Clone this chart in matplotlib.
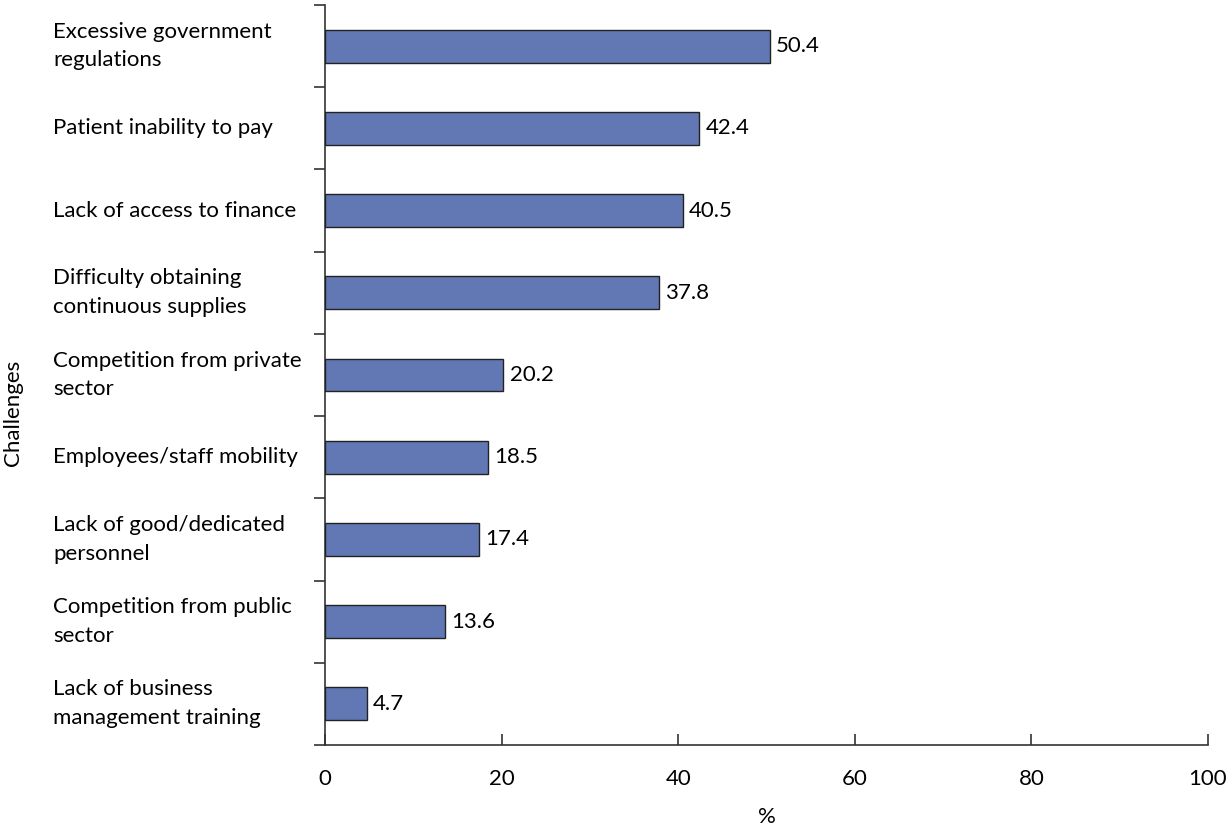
import numpy as np
import matplotlib.pyplot as plt
from matplotlib.transforms import blended_transform_factory

challenges = [
    "Excessive government\nregulations",
    "Patient inability to pay",
    "Lack of access to finance",
    "Difficulty obtaining\ncontinuous supplies",
    "Competition from private\nsector",
    "Employees/staff mobility",
    "Lack of good/dedicated\npersonnel",
    "Competition from public\nsector",
    "Lack of business\nmanagement training",
]
percent = [50.4, 42.4, 40.5, 37.8, 20.2, 18.5, 17.4, 13.6, 4.7]

plt.rcParams['font.family'] = ['Lato', 'DejaVu Sans']
FS = 16

fig = plt.figure(figsize=(12.28, 8.25), dpi=100)
ax = fig.add_axes([0.2647, 0.097, 0.719, 0.897])

n = len(challenges)
y = np.arange(n)[::-1]
ax.barh(y, percent, height=0.4, color='#6278B4', edgecolor='#222222', linewidth=1.0, zorder=3)

for yi, v in zip(y, percent):
    ax.text(v + 0.7, yi, f"{v:.1f}", va='center', ha='left', fontsize=FS)

ax.set_xlim(0, 100)
ax.set_ylim(-0.5, n - 0.5)
ax.set_xticks(np.arange(0, 101, 20))
ax.tick_params(axis='x', direction='in', length=8, width=1.2, color='#333333',
               labelsize=FS, pad=17)

# category boundaries carry the outward y ticks; names are drawn as left-aligned text
ax.set_yticks(np.arange(-0.5, n, 1.0))
ax.set_yticklabels([])
ax.tick_params(axis='y', direction='out', length=8, width=1.2, color='#333333')

trans = blended_transform_factory(fig.transFigure, ax.transData)
for yi, name in zip(y, challenges):
    ax.text(53 / 1228, yi, name, transform=trans, ha='left', va='center',
            fontsize=FS, linespacing=1.55)

for side in ['top', 'right']:
    ax.spines[side].set_visible(False)
for side in ['left', 'bottom']:
    ax.spines[side].set_color('#333333')
    ax.spines[side].set_linewidth(1.2)

fig.text(13 / 1228, 0.5, "Challenges", rotation=90, va='center', ha='center', fontsize=FS)
ax.set_xlabel("%", fontsize=FS, labelpad=13)

fig.savefig("out.png", dpi=100)
